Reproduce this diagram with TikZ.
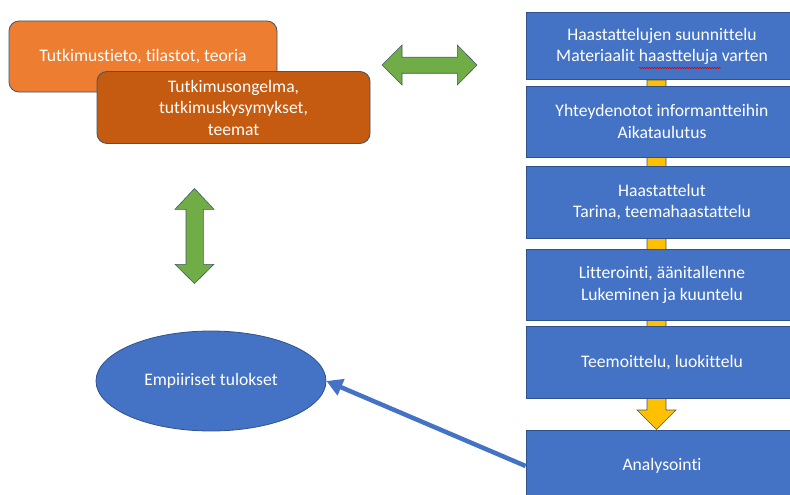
\documentclass[tikz,border=0pt]{standalone}
\usepackage{fontspec}
\setmainfont{Carlito}[Ligatures=NoCommon]
\usetikzlibrary{shapes.geometric,arrows.meta,decorations.pathmorphing}
\definecolor{lorange}{HTML}{ED7D31}
\definecolor{dorange}{HTML}{C55A11}
\definecolor{oblue}{HTML}{4472C4}
\definecolor{oblueline}{HTML}{2F528F}
\definecolor{ogreen}{HTML}{70AD47}
\definecolor{oyellow}{HTML}{FFC000}
\definecolor{outl}{HTML}{44546A}
\tikzset{
  txt/.style={text=white, font=\fontsize{17.6}{21.5}\selectfont, align=center, inner sep=0pt},
  obox/.style={txt, draw=outl, line width=0.8pt, rounded corners=10pt},
  bbox/.style={txt, draw=oblueline, line width=0.8pt, fill=oblue, minimum width=272pt},
  blockarrow/.style={draw=outl, line width=0.6pt, line join=miter},
}
\begin{document}
\begin{tikzpicture}[x=1pt,y=-1pt]
\useasboundingbox (0,0) rectangle (790,495);
\clip (0,0) rectangle (790,495);
% yellow block arrow behind the process boxes
\draw[blockarrow, fill=oyellow] (647,80) -- (647,410) -- (637,410) -- (656.5,429.5) -- (676,410) -- (666,410) -- (666,80) -- cycle;
% left boxes
\node[obox, fill=lorange, minimum width=268pt, minimum height=71pt] (b1) at (143,56.5) {Tutkimustieto, tilastot, teoria};
\node[obox, fill=dorange, minimum width=273pt, minimum height=72pt] (b2) at (233.5,107.5) {Tutkimusongelma,\\ tutkimuskysymykset,\\ teemat};
% right process boxes
\node[bbox, minimum height=67pt] (p1) at (662,46.3) {Haastattelujen suunnittelu\\ Materiaalit haastteluja varten};
\node[bbox, minimum height=71pt] (p2) at (662,121.7) {Yhteydenotot informantteihin\\ Aikataulutus};
\node[bbox, minimum height=72pt] (p3) at (662,202.2) {Haastattelut\\ Tarina, teemahaastattelu};
\node[bbox, minimum height=71pt] (p4) at (662,285) {Litterointi, äänitallenne\\ Lukeminen ja kuuntelu};
\node[bbox, minimum height=72pt] (p5) at (662,362.5) {Teemoittelu, luokittelu};
\node[bbox, minimum height=72pt] (p6) at (662,466) {Analysointi};
% spell-check wave under "haastteluja"
\draw[red!85!black, line width=0.5pt, decorate, decoration={snake, amplitude=0.8pt, segment length=2.5pt}] (639,68) -- (721,68);
% ellipse
\node[txt, ellipse, draw=oblueline, line width=0.8pt, fill=oblue, minimum width=230pt, minimum height=100pt] (e) at (211,381) {Empiiriset tulokset};
% green double arrows
\draw[blockarrow, fill=ogreen] (382,65) -- (402,45) -- (402,57.3) -- (457.3,57.3) -- (457.3,45) -- (477,65) -- (457.3,85) -- (457.3,73.3) -- (402,73.3) -- (402,85) -- cycle;
\draw[blockarrow, fill=ogreen] (194.5,188.5) -- (214,209.3) -- (203.3,209.3) -- (203.3,264.3) -- (214,264.3) -- (194.5,283.5) -- (175,264.3) -- (186,264.3) -- (186,209.3) -- (175,209.3) -- cycle;
% blue arrow to ellipse
\draw[oblue, line width=4.5pt, -{Triangle[length=16pt,width=17pt]}] (p6.west) -- (e.east);
\end{tikzpicture}
\end{document}
